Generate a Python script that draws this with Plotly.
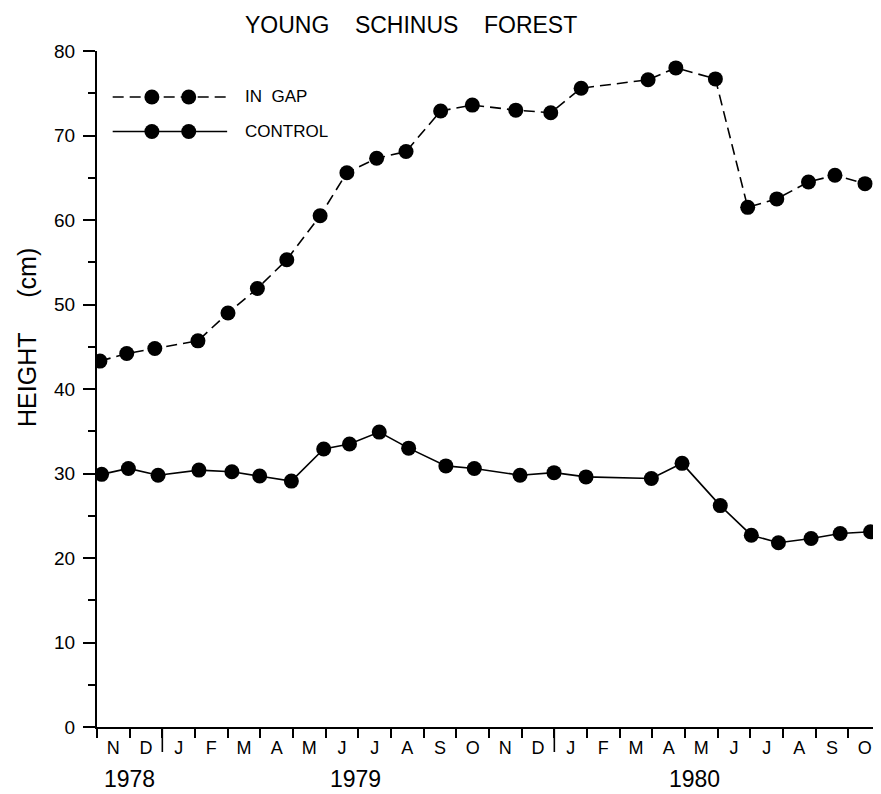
import plotly.graph_objects as go

font_family = 'Liberation Sans'

# months counted from 1 Nov 1978
gap_months = [0.09, 0.91, 1.77, 3.09, 4.01, 4.91, 5.81, 6.83, 7.65, 8.56, 9.46, 10.52,
              11.49, 12.82, 13.89, 14.82, 16.87, 17.72, 18.93, 19.92, 20.81, 21.78, 22.59, 23.51]
gap_height = [43.3, 44.2, 44.8, 45.7, 49.0, 51.9, 55.3, 60.5, 65.6, 67.3, 68.1, 72.9,
              73.6, 73.0, 72.7, 75.6, 76.6, 78.0, 76.7, 61.5, 62.5, 64.5, 65.3, 64.3]

control_months = [0.14, 0.96, 1.87, 3.12, 4.13, 4.98, 5.95, 6.94, 7.73, 8.64, 9.54, 10.68,
                  11.55, 12.95, 13.99, 14.97, 16.97, 17.91, 19.08, 20.03, 20.86, 21.86, 22.75, 23.68]
control_height = [29.9, 30.6, 29.8, 30.4, 30.2, 29.7, 29.1, 32.9, 33.5, 34.9, 33.0, 30.9,
                  30.6, 29.8, 30.1, 29.6, 29.4, 31.2, 26.2, 22.7, 21.8, 22.3, 22.9, 23.1]

month_labels = ['N', 'D', 'J', 'F', 'M', 'A', 'M', 'J', 'J', 'A', 'S', 'O',
                'N', 'D', 'J', 'F', 'M', 'A', 'M', 'J', 'J', 'A', 'S', 'O']
year_labels = ['1978', '1979', '1980']
year_label_pos = [1.0, 7.9, 18.3]
year_starts = [2, 14]

y_ticks = [0, 10, 20, 30, 40, 50, 60, 70, 80]

dash_style = '11px,6px'
sp = '\u00a0'

fig = go.Figure()

fig.add_trace(go.Scatter(
    x=gap_months, y=gap_height, mode='lines+markers', name='IN GAP',
    line=dict(color='black', width=1.6, dash=dash_style),
    marker=dict(color='black', size=15, line=dict(width=0)),
))
fig.add_trace(go.Scatter(
    x=control_months, y=control_height, mode='lines+markers', name='CONTROL',
    line=dict(color='black', width=1.6),
    marker=dict(color='black', size=15, line=dict(width=0)),
))

# hand-drawn style legend on an overlay axis spanning the plot area
leg_line_x = [0.020, 0.166]
leg_dot_x = [0.070, 0.117]
leg_rows = [('IN' + sp * 2 + 'GAP', 0.932, dash_style), ('CONTROL', 0.881, 'solid')]
for txt, yy, dash in leg_rows:
    fig.add_trace(go.Scatter(
        x=leg_line_x, y=[yy, yy], xaxis='x2', yaxis='y2', mode='lines',
        line=dict(color='black', width=1.6, dash=dash), hoverinfo='skip',
    ))
    fig.add_trace(go.Scatter(
        x=leg_dot_x, y=[yy, yy], xaxis='x2', yaxis='y2', mode='markers',
        marker=dict(color='black', size=15, line=dict(width=0)), hoverinfo='skip',
    ))
    fig.add_annotation(text=txt, xref='paper', yref='paper', x=0.186, y=yy,
                       xanchor='left', yanchor='middle', showarrow=False,
                       font=dict(size=17, color='black', family=font_family))

# longer ticks at year boundaries
for ys in year_starts:
    fig.add_shape(type='line', xref='x', yref='paper', x0=ys, x1=ys, y0=0, y1=-0.037,
                  line=dict(color='black', width=1.6))

for lab, pos in zip(year_labels, year_label_pos):
    fig.add_annotation(text=lab, xref='x', yref='paper', x=pos, y=-0.0775,
                       xanchor='center', yanchor='middle', showarrow=False,
                       font=dict(size=23, color='black', family=font_family))

fig.add_annotation(text='YOUNG' + sp * 4 + 'SCHINUS' + sp * 4 + 'FOREST',
                   xref='paper', yref='paper', x=0.401, y=1.0385,
                   xanchor='center', yanchor='middle', showarrow=False,
                   font=dict(size=23, color='black', family=font_family))

# y axis title sits above the plot centre in the original
fig.add_annotation(text='HEIGHT' + sp * 5 + '(cm)', textangle=-90,
                   xref='paper', yref='paper', x=-0.0893, y=0.577,
                   xanchor='center', yanchor='middle', showarrow=False,
                   font=dict(size=25, color='black', family=font_family))

# page body adds an 8px offset, so the figure is 8px smaller than the window
fig.update_layout(
    width=873, height=786,
    margin=dict(l=89, r=0, t=43, b=67, pad=0),
    paper_bgcolor='white', plot_bgcolor='white',
    showlegend=False,
    font=dict(family=font_family, color='black'),
    xaxis=dict(
        range=[0, 24], showgrid=False, zeroline=False, automargin=False,
        showline=True, linecolor='black', linewidth=2,
        tickvals=[i + 0.5 for i in range(len(month_labels))], ticktext=month_labels,
        ticks='', ticklabelstandoff=3,
        tickfont=dict(size=18, color='black', family=font_family),
        minor=dict(tick0=0, dtick=1, ticks='outside', ticklen=9,
                   tickcolor='black', tickwidth=1.6),
    ),
    yaxis=dict(
        range=[0, 80], showgrid=False, zeroline=False, automargin=False,
        showline=True, linecolor='black', linewidth=2,
        tickvals=y_ticks, ticks='outside', ticklen=12, tickwidth=1.6, tickcolor='black',
        ticklabelstandoff=4,
        tickfont=dict(size=19, color='black', family=font_family),
        minor=dict(dtick=5, ticks='outside', ticklen=7, tickcolor='black', tickwidth=1.6),
    ),
    xaxis2=dict(overlaying='x', range=[0, 1], visible=False),
    yaxis2=dict(overlaying='y', range=[0, 1], visible=False),
)

fig.write_html('out.html')
